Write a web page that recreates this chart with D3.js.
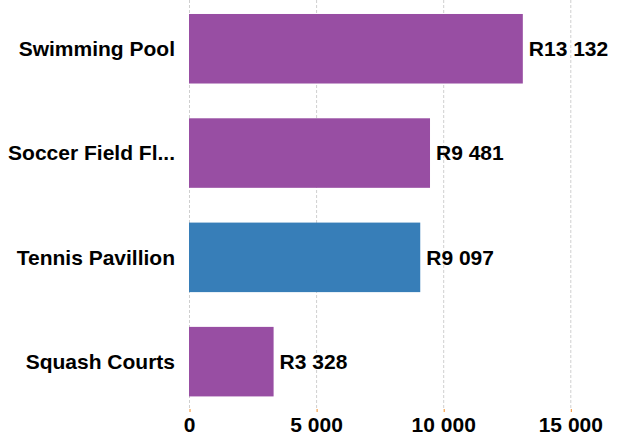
<!DOCTYPE html>
<html>
<head>
<meta charset="utf-8">
<script src="https://cdn.jsdelivr.net/npm/d3@7"></script>
<style>
  body { margin: 0; background: #fff; }
  text { font-family: "Liberation Sans", Arial, sans-serif; font-weight: bold; fill: #000; }
</style>
</head>
<body>
<svg id="chart"></svg>
<script>
const width = 626;
const height = 441;

// data
const categories = ["Swimming Pool", "Soccer Field Fl...", "Tennis Pavillion", "Squash Courts"];
const values = [13132, 9481, 9097, 3328];
const highlighted = [false, false, true, false];
const tickValues = [0, 5000, 10000, 15000];

const purple = "#984ea3";
const blue = "#377eb8";

const svg = d3.select("#chart")
  .attr("width", width)
  .attr("height", height);

const x = d3.scaleLinear()
  .domain([0, 15000])
  .range([189, 570.3]);

const y = d3.scaleBand()
  .domain(categories)
  .range([-3.4, 413.8])
  .paddingInner(1 / 3)
  .paddingOuter(1 / 6);

const fmt = v => d3.format(",")(v).replace(/,/g, " ");

// dashed grid lines
svg.append("g")
  .selectAll("line")
  .data(tickValues)
  .join("line")
  .attr("x1", d => x(d) + 0.5)
  .attr("x2", d => x(d) + 0.5)
  .attr("y1", 0)
  .attr("y2", 409)
  .attr("stroke", "#cfcfcf")
  .attr("stroke-width", 1)
  .attr("stroke-dasharray", "3,2");

// x axis: small orange ticks, bold labels
const axis = svg.append("g")
  .attr("transform", "translate(0,409)")
  .call(d3.axisBottom(x).tickValues(tickValues).tickSize(3).tickFormat(fmt));
axis.select(".domain").remove();
axis.selectAll(".tick line").attr("stroke", "#f28e2b").attr("transform", "translate(0.5,0)");
axis.selectAll(".tick text")
  .attr("y", 8)
  .attr("dy", "0.71em")
  .style("font-size", "21px");

// bars
svg.append("g")
  .selectAll("rect")
  .data(values)
  .join("rect")
  .attr("x", x(0))
  .attr("y", (d, i) => y(categories[i]))
  .attr("width", d => x(d) - x(0))
  .attr("height", y.bandwidth())
  .attr("fill", (d, i) => highlighted[i] ? blue : purple);

// value labels
svg.append("g")
  .selectAll("text")
  .data(values)
  .join("text")
  .attr("x", d => x(d) + 6)
  .attr("y", (d, i) => y(categories[i]) + y.bandwidth() / 2)
  .attr("dy", "0.35em")
  .style("font-size", "21px")
  .text(d => "R" + fmt(d));

// category labels
svg.append("g")
  .selectAll("text")
  .data(categories)
  .join("text")
  .attr("x", 175)
  .attr("y", d => y(d) + y.bandwidth() / 2)
  .attr("dy", "0.35em")
  .attr("text-anchor", "end")
  .style("font-size", "21px")
  .text(d => d);
</script>
</body>
</html>
